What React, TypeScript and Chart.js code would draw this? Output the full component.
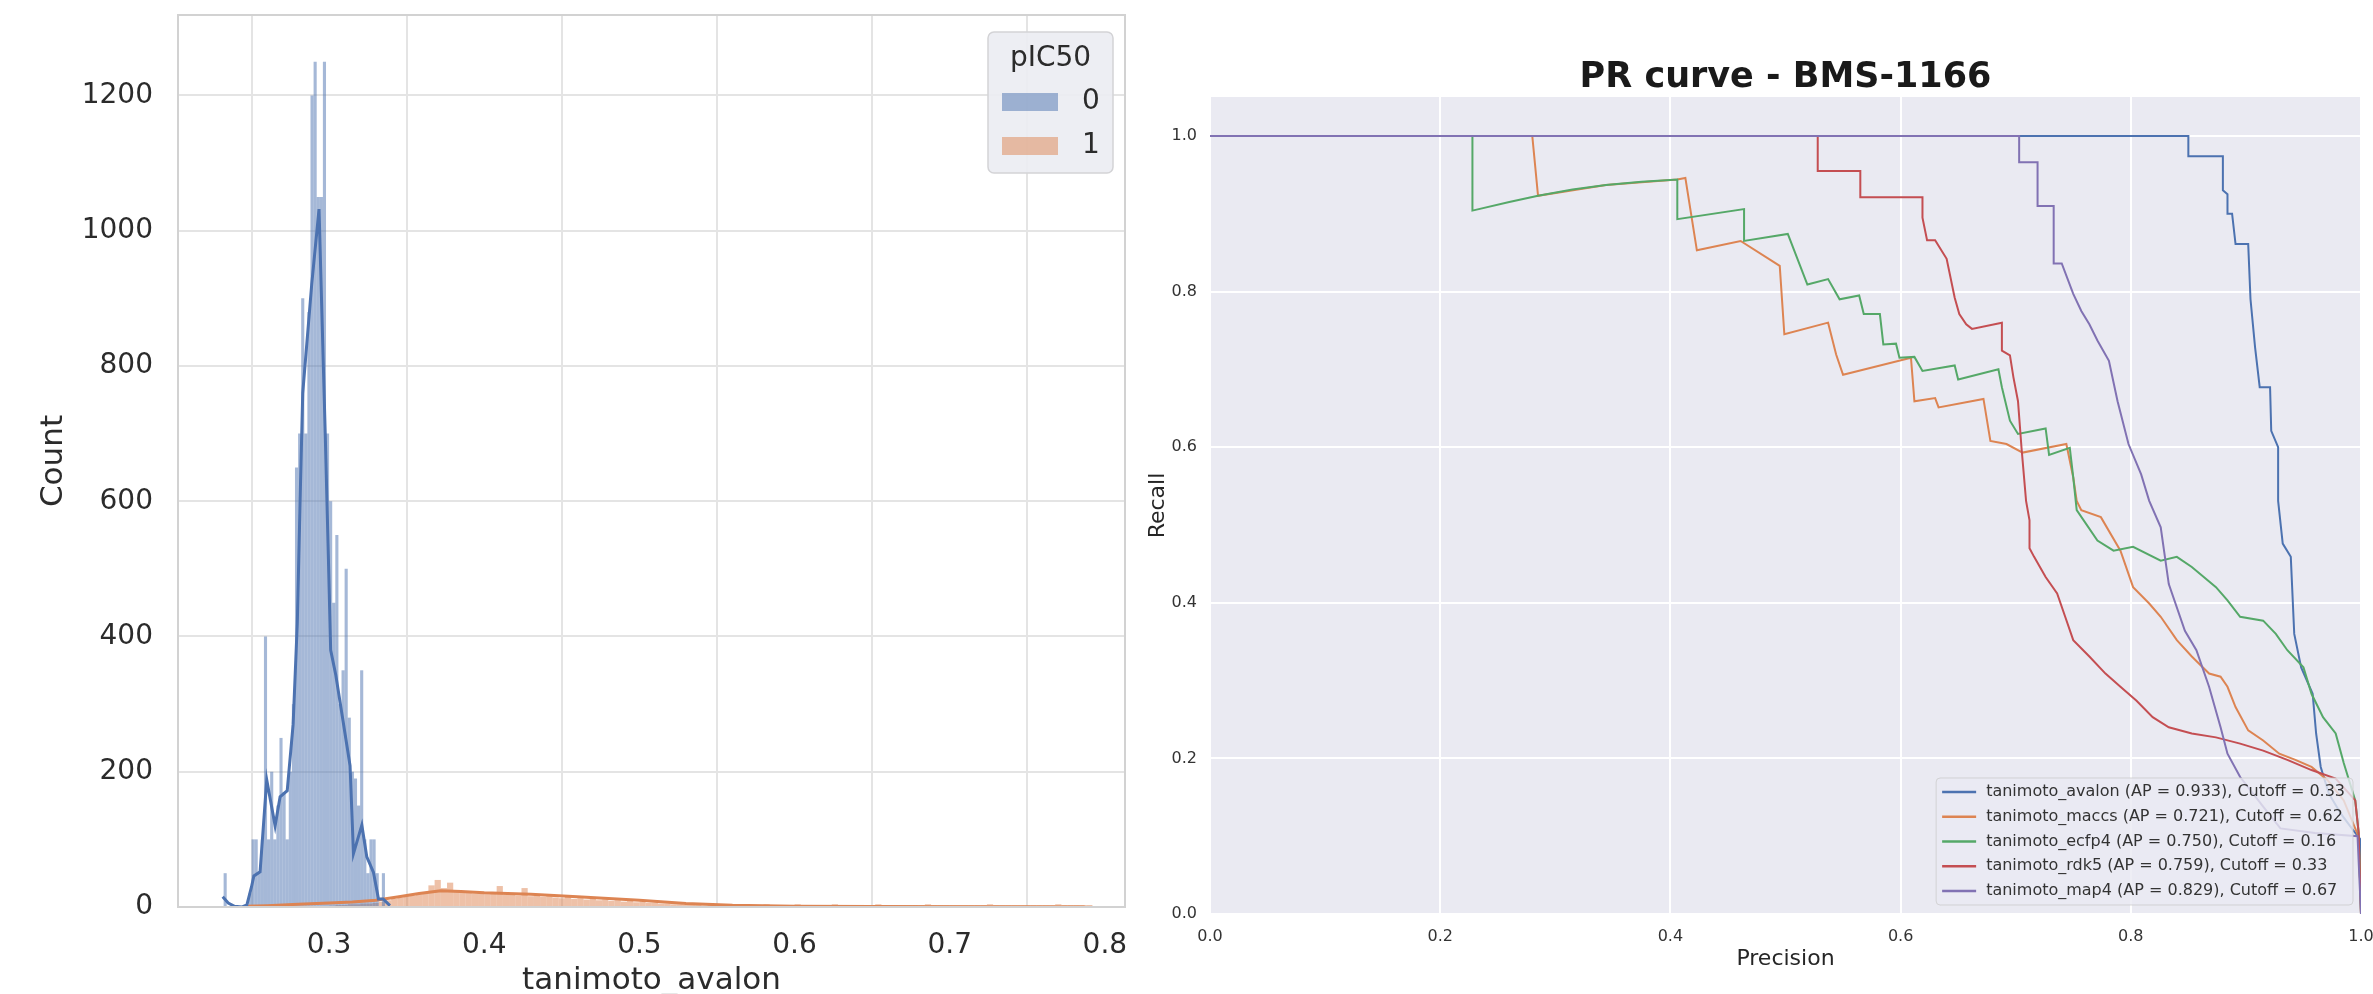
import React, { useEffect, useRef } from "react";
import { Chart, registerables } from "chart.js";

Chart.register(...registerables);

const FONT = "'DejaVu Sans', 'Noto Sans', sans-serif";

// ---------------- Left panel: histogram of tanimoto_avalon ----------------
const histXLabel = "tanimoto_avalon";
const histYLabel = "Count";
const hueTitle = "pIC50";
const hueNames = ["0", "1"];
const histXTicks = [0.3, 0.4, 0.5, 0.6, 0.7, 0.8];
const histYTicks = [0, 200, 400, 600, 800, 1000, 1200];
const histXMin = 0.2026;
const histXMax = 0.813;
const histYMax = 1319;

// pIC50 = 0 (blue) histogram, bins of 0.002 starting at 0.230
const blueBinStart = 0.23;
const blueBinWidth = 0.002;
const blueCounts = [
  0, 50, 0, 0, 0, 0, 0, 0, 0, 20,
  100, 100, 50, 100, 400, 100, 200, 100, 150, 250,
  170, 100, 200, 300, 650, 700, 900, 700, 880, 1200,
  1250, 1050, 1050, 1250, 700, 600, 450, 550, 300, 350,
  500, 280, 200, 190, 150, 350, 100, 50, 100, 100,
  50, 0, 50, 0,
];

// pIC50 = 1 (orange) histogram, bins of 0.004 starting at 0.300
const orangeBinStart = 0.3;
const orangeBinWidth = 0.004;
const orangeCounts = [
  2, 3, 3, 4, 4, 5, 5, 6, 8, 10, 12, 14, 16, 17, 19, 21,
  32, 40, 28, 36, 24, 22, 23, 20, 22, 19, 21, 31, 18, 19, 17, 28,
  16, 17, 15, 16, 14, 13, 15, 12, 13, 11, 12, 10, 11, 9, 10, 8,
  9, 7, 8, 6, 6, 5, 5, 4, 4, 3, 3, 3, 2, 3, 2, 2,
  3, 3, 4, 3, 3, 3, 4, 3, 3, 3, 3, 4, 3, 3, 3, 3, 3, 4, 3, 3,
  3, 3, 3, 3, 4, 3, 3, 3, 3, 3, 3, 3, 4, 3, 3, 3, 3, 3, 3, 3,
  3, 3, 4, 3, 3, 3, 3, 3, 3, 3, 3, 3, 3, 4, 3, 3, 3, 3, 3,
];

// KDE curves
const blueKdeX = [
  0.2314, 0.235, 0.239, 0.244, 0.247, 0.25, 0.2515, 0.2555, 0.2598, 0.2652,
  0.2684, 0.273, 0.2768, 0.2795, 0.2815, 0.283, 0.2888, 0.2935, 0.2975, 0.2995,
  0.301, 0.3043, 0.3085, 0.3135, 0.3157, 0.3211, 0.3243, 0.3286, 0.3318, 0.3348, 0.3392,
];
const blueKdeY = [
  15, 6, 1, 0, 3, 30, 46, 52, 188, 120,
  163, 172, 270, 420, 620, 760, 921, 1032, 700, 520,
  380, 343, 282, 209, 79, 121, 74, 51, 12, 12, 2,
];
const orangeKdeX = [
  0.246, 0.26, 0.28, 0.3, 0.315, 0.33, 0.345, 0.358, 0.372, 0.385,
  0.4, 0.43, 0.46, 0.5, 0.53, 0.56, 0.6, 0.65, 0.7, 0.787,
];
const orangeKdeY = [
  1, 2, 4, 6, 7.5, 10, 15, 20, 24, 23,
  21, 19, 15, 10, 5, 2.5, 1.2, 0.6, 0.3, 0.1,
];

// ---------------- Right panel: PR curves ----------------
const prTitle = "PR curve - BMS-1166";
const prXLabel = "Precision";
const prYLabel = "Recall";
const prTicks = [0, 0.2, 0.4, 0.6, 0.8, 1.0];
const prNames = ["tanimoto_avalon", "tanimoto_maccs", "tanimoto_ecfp4", "tanimoto_rdk5", "tanimoto_map4"];
const prAP = ["0.933", "0.721", "0.750", "0.759", "0.829"];
const prCutoff = ["0.33", "0.62", "0.16", "0.33", "0.67"];
const prColors = ["#4c72b0", "#dd8452", "#55a868", "#c44e52", "#8172b3"];

const avalonPrecision = [0, 0.85, 0.85, 0.88, 0.88, 0.884, 0.884, 0.888, 0.891, 0.902, 0.904, 0.908, 0.912, 0.921, 0.922, 0.928, 0.928, 0.932, 0.939, 0.942, 0.948, 0.958, 0.961, 0.965, 0.972, 0.982, 0.992, 1.0, 1.0];
const avalonRecall = [1.0, 1.0, 0.974, 0.974, 0.93, 0.925, 0.9, 0.9, 0.861, 0.861, 0.79, 0.728, 0.677, 0.677, 0.621, 0.6, 0.531, 0.476, 0.459, 0.36, 0.317, 0.283, 0.232, 0.189, 0.155, 0.13, 0.11, 0.095, 0.0];

const maccsPrecision = [0, 0.28, 0.285, 0.344, 0.406, 0.413, 0.423, 0.461, 0.495, 0.499, 0.537, 0.544, 0.55, 0.609, 0.612, 0.63, 0.633, 0.672, 0.678, 0.692, 0.706, 0.744, 0.75, 0.753, 0.757, 0.774, 0.791, 0.802, 0.816, 0.826, 0.84, 0.853, 0.868, 0.878, 0.884, 0.891, 0.902, 0.915, 0.929, 0.943, 0.957, 0.971, 0.985, 0.998, 1.0];
const maccsRecall = [1.0, 1.0, 0.923, 0.937, 0.944, 0.946, 0.853, 0.865, 0.833, 0.745, 0.76, 0.719, 0.693, 0.715, 0.659, 0.663, 0.651, 0.662, 0.608, 0.604, 0.593, 0.604, 0.561, 0.531, 0.519, 0.51, 0.467, 0.42, 0.399, 0.382, 0.352, 0.331, 0.309, 0.305, 0.292, 0.266, 0.236, 0.223, 0.206, 0.198, 0.189, 0.172, 0.146, 0.099, 0.0];

const ecfp4Precision = [0, 0.228, 0.228, 0.26, 0.285, 0.315, 0.344, 0.375, 0.406, 0.406, 0.464, 0.464, 0.502, 0.519, 0.537, 0.547, 0.564, 0.568, 0.582, 0.585, 0.596, 0.599, 0.612, 0.619, 0.647, 0.65, 0.685, 0.688, 0.695, 0.702, 0.726, 0.729, 0.747, 0.75, 0.753, 0.771, 0.785, 0.802, 0.826, 0.84, 0.853, 0.874, 0.884, 0.895, 0.915, 0.926, 0.936, 0.95, 0.957, 0.967, 0.978, 0.985, 0.995, 0.998, 1.0];
const ecfp4Recall = [1.0, 1.0, 0.904, 0.915, 0.923, 0.931, 0.937, 0.941, 0.944, 0.893, 0.906, 0.865, 0.874, 0.809, 0.816, 0.79, 0.795, 0.771, 0.771, 0.732, 0.733, 0.715, 0.716, 0.698, 0.705, 0.687, 0.7, 0.677, 0.634, 0.617, 0.624, 0.59, 0.599, 0.561, 0.519, 0.48, 0.467, 0.472, 0.454, 0.459, 0.446, 0.42, 0.403, 0.382, 0.377, 0.36, 0.339, 0.317, 0.283, 0.253, 0.232, 0.194, 0.146, 0.104, 0.0];

const rdk5Precision = [0, 0.528, 0.528, 0.565, 0.565, 0.619, 0.619, 0.623, 0.63, 0.64, 0.647, 0.651, 0.657, 0.662, 0.688, 0.688, 0.695, 0.698, 0.702, 0.705, 0.709, 0.712, 0.712, 0.716, 0.726, 0.736, 0.743, 0.75, 0.764, 0.778, 0.791, 0.805, 0.819, 0.833, 0.853, 0.874, 0.895, 0.915, 0.936, 0.957, 0.978, 0.995, 0.998, 1.0];
const rdk5Recall = [1.0, 1.0, 0.955, 0.955, 0.921, 0.921, 0.895, 0.866, 0.866, 0.842, 0.792, 0.771, 0.758, 0.752, 0.76, 0.724, 0.718, 0.69, 0.659, 0.6, 0.531, 0.506, 0.47, 0.459, 0.433, 0.412, 0.382, 0.352, 0.331, 0.309, 0.292, 0.274, 0.253, 0.24, 0.232, 0.227, 0.219, 0.21, 0.198, 0.185, 0.174, 0.146, 0.104, 0.0];

const map4Precision = [0, 0.703, 0.703, 0.719, 0.719, 0.733, 0.733, 0.74, 0.75, 0.757, 0.764, 0.771, 0.781, 0.7885, 0.798, 0.809, 0.816, 0.826, 0.833, 0.847, 0.857, 0.868, 0.878, 0.884, 0.895, 0.915, 0.93, 0.96, 0.997, 1.0];
const map4Recall = [1.0, 1.0, 0.966, 0.966, 0.91, 0.91, 0.836, 0.836, 0.797, 0.775, 0.758, 0.737, 0.711, 0.659, 0.604, 0.565, 0.531, 0.497, 0.424, 0.364, 0.339, 0.292, 0.24, 0.206, 0.176, 0.138, 0.11, 0.104, 0.1, 0.0];

const prPrecisions = [avalonPrecision, maccsPrecision, ecfp4Precision, rdk5Precision, map4Precision];
const prRecalls = [avalonRecall, maccsRecall, ecfp4Recall, rdk5Recall, map4Recall];

// ---------------- helpers ----------------
const zip = (xs: number[], ys: number[]) => xs.map((x, i) => ({ x, y: ys[i] }));
const binsToPoints = (start: number, width: number, counts: number[]) =>
  counts.map((c, i) => ({ x: start + width * (i + 0.5), y: c }));

function roundRectPath(ctx: CanvasRenderingContext2D, x: number, y: number, w: number, h: number, r: number) {
  ctx.beginPath();
  ctx.moveTo(x + r, y);
  ctx.lineTo(x + w - r, y);
  ctx.arcTo(x + w, y, x + w, y + r, r);
  ctx.lineTo(x + w, y + h - r);
  ctx.arcTo(x + w, y + h, x + w - r, y + h, r);
  ctx.lineTo(x + r, y + h);
  ctx.arcTo(x, y + h, x, y + h - r, r);
  ctx.lineTo(x, y + r);
  ctx.arcTo(x, y, x + r, y, r);
  ctx.closePath();
}

const clearPad = (s: any) => {
  s.paddingTop = 0;
  s.paddingBottom = 0;
  s.paddingLeft = 0;
  s.paddingRight = 0;
};

const hueFill = ["rgba(76,114,176,0.5)", "rgba(221,132,82,0.5)"];

const frameBorder = {
  id: "frameBorder",
  afterDraw(chart: any) {
    const { ctx, chartArea: a } = chart;
    ctx.save();
    ctx.strokeStyle = "#d2d2d2";
    ctx.lineWidth = 2;
    ctx.strokeRect(a.left, a.top, a.right - a.left, a.bottom - a.top);
    ctx.restore();
  },
};

const hueLegend = {
  id: "hueLegend",
  afterDraw(chart: any) {
    const { ctx, chartArea: a } = chart;
    const w = 125;
    const h = 141;
    const x = a.right - 12 - w;
    const y = a.top + 17;
    ctx.save();
    roundRectPath(ctx, x, y, w, h, 6);
    ctx.fillStyle = "rgba(236,237,242,0.92)";
    ctx.fill();
    ctx.strokeStyle = "#d3d3d6";
    ctx.lineWidth = 1.5;
    ctx.stroke();
    ctx.fillStyle = "#2b2b2b";
    ctx.font = `28px ${FONT}`;
    ctx.textAlign = "center";
    ctx.textBaseline = "middle";
    ctx.fillText(hueTitle, x + w / 2, y + 27);
    hueNames.forEach((name, i) => {
      const cy = y + 70 + i * 44;
      ctx.fillStyle = hueFill[i];
      ctx.fillRect(x + 14, cy - 9, 56, 18);
      ctx.fillStyle = "#2b2b2b";
      ctx.textAlign = "left";
      ctx.fillText(name, x + 94, cy);
    });
    ctx.restore();
  },
};

const darkBg = {
  id: "darkBg",
  beforeDraw(chart: any) {
    const { ctx, chartArea: a } = chart;
    ctx.save();
    ctx.fillStyle = "#eaeaf2";
    ctx.fillRect(a.left, a.top, a.right - a.left, a.bottom - a.top);
    ctx.restore();
  },
};

const prTitlePlugin = {
  id: "prTitle",
  afterDraw(chart: any) {
    const { ctx, chartArea: a } = chart;
    ctx.save();
    ctx.fillStyle = "#1a1a1a";
    ctx.font = `bold 35px ${FONT}`;
    ctx.textAlign = "center";
    ctx.textBaseline = "alphabetic";
    ctx.fillText(prTitle, (a.left + a.right) / 2, 87);
    ctx.restore();
  },
};

const prLegend = {
  id: "prLegend",
  afterDraw(chart: any) {
    const { ctx, chartArea: a } = chart;
    ctx.save();
    ctx.font = `16px ${FONT}`;
    const labels = prNames.map((n, i) => `${n} (AP = ${prAP[i]}), Cutoff = ${prCutoff[i]}`);
    const maxW = Math.max(...labels.map((l) => ctx.measureText(l).width));
    const rowH = 24.75;
    const w = 50 + maxW + 8;
    const h = 14 * 2 + rowH * (labels.length - 1);
    const right = a.right - 8;
    const bottom = a.bottom - 9;
    const x = right - w;
    const y = bottom - h;
    roundRectPath(ctx, x, y, w, h, 4);
    ctx.fillStyle = "rgba(234,234,242,0.8)";
    ctx.fill();
    ctx.strokeStyle = "rgba(204,204,204,0.8)";
    ctx.lineWidth = 1;
    ctx.stroke();
    labels.forEach((l, i) => {
      const cy = y + 14 + i * rowH;
      ctx.strokeStyle = prColors[i];
      ctx.lineWidth = 2.5;
      ctx.beginPath();
      ctx.moveTo(x + 6, cy);
      ctx.lineTo(x + 40, cy);
      ctx.stroke();
      ctx.fillStyle = "#333333";
      ctx.textAlign = "left";
      ctx.textBaseline = "middle";
      ctx.fillText(l, x + 50, cy);
    });
    ctx.restore();
  },
};

export default function App() {
  const leftRef = useRef<HTMLCanvasElement>(null);
  const rightRef = useRef<HTMLCanvasElement>(null);

  useEffect(() => {
    document.body.style.margin = "0";
    const tickColor = "#2b2b2b";

    const left = new Chart(leftRef.current as HTMLCanvasElement, {
      type: "bar",
      data: {
        datasets: [
          {
            type: "line",
            label: "kde 0",
            data: zip(blueKdeX, blueKdeY),
            borderColor: "#4c72b0",
            borderWidth: 3,
            pointRadius: 0,
            tension: 0,
            fill: false,
            xAxisID: "x",
            order: 0,
          } as any,
          {
            type: "line",
            label: "kde 1",
            data: zip(orangeKdeX, orangeKdeY),
            borderColor: "#dd8452",
            borderWidth: 3,
            pointRadius: 0,
            tension: 0,
            fill: false,
            xAxisID: "x",
            order: 1,
          } as any,
          {
            type: "bar",
            label: "0",
            data: binsToPoints(blueBinStart, blueBinWidth, blueCounts),
            backgroundColor: hueFill[0],
            borderWidth: 0,
            grouped: false,
            barPercentage: 1,
            categoryPercentage: 1,
            inflateAmount: 0,
            xAxisID: "x",
            order: 2,
          } as any,
          {
            type: "bar",
            label: "1",
            data: binsToPoints(orangeBinStart, orangeBinWidth, orangeCounts),
            backgroundColor: hueFill[1],
            borderWidth: 0,
            grouped: false,
            barPercentage: 1,
            categoryPercentage: 1,
            inflateAmount: 0,
            xAxisID: "x2",
            order: 3,
          } as any,
        ],
      },
      options: {
        responsive: false,
        animation: false,
        devicePixelRatio: 1,
        layout: { padding: { left: 0, top: 15, right: 5, bottom: 0 } },
        plugins: { legend: { display: false }, tooltip: { enabled: false }, title: { display: false } },
        scales: {
          x: {
            type: "linear",
            min: histXMin,
            max: histXMax,
            offset: false,
            afterBuildTicks: (s: any) => {
              s.ticks = histXTicks.map((v) => ({ value: v }));
            },
            afterFit: (s: any) => {
              s.height = 87;
              clearPad(s);
            },
            grid: { color: "#e4e4e4", lineWidth: 2, drawTicks: false },
            border: { display: false },
            ticks: {
              padding: 21.5,
              color: tickColor,
              font: { family: FONT, size: 28 },
              maxRotation: 0,
              autoSkip: false,
              callback: (v: any) => Number(v).toFixed(1),
            },
            title: {
              display: true,
              text: histXLabel,
              color: tickColor,
              font: { family: FONT, size: 31, lineHeight: 0.82 },
              padding: { top: 0, bottom: 0 },
            },
          },
          x2: {
            type: "linear",
            display: false,
            min: histXMin,
            max: histXMax,
            offset: false,
            afterFit: clearPad,
          },
          y: {
            type: "linear",
            min: 0,
            max: histYMax,
            afterBuildTicks: (s: any) => {
              s.ticks = histYTicks.map((v) => ({ value: v }));
            },
            afterFit: (s: any) => {
              s.width = 178;
              clearPad(s);
            },
            grid: { color: "#e4e4e4", lineWidth: 2, drawTicks: false },
            border: { display: false },
            ticks: {
              padding: 25,
              color: tickColor,
              font: { family: FONT, size: 28 },
              callback: (v: any) => String(v),
            },
            title: {
              display: true,
              text: histYLabel,
              color: tickColor,
              font: { family: FONT, size: 31, lineHeight: 1.2 },
              padding: { top: 35.7, bottom: 0 },
            },
          },
        },
      } as any,
      plugins: [frameBorder, hueLegend],
    });

    const right = new Chart(rightRef.current as HTMLCanvasElement, {
      type: "scatter",
      data: {
        datasets: prNames.map((name, i) => ({
          label: name,
          data: zip(prPrecisions[i], prRecalls[i]),
          showLine: true,
          borderColor: prColors[i],
          backgroundColor: prColors[i],
          borderWidth: 2,
          pointRadius: 0,
          tension: 0,
          fill: false,
          order: prNames.length - 1 - i,
        })),
      },
      options: {
        responsive: false,
        animation: false,
        devicePixelRatio: 1,
        layout: { padding: { left: 0, top: 97, right: 12, bottom: 0 } },
        plugins: { legend: { display: false }, tooltip: { enabled: false }, title: { display: false } },
        scales: {
          x: {
            type: "linear",
            min: 0,
            max: 1,
            afterBuildTicks: (s: any) => {
              s.ticks = prTicks.map((v) => ({ value: v }));
            },
            afterFit: (s: any) => {
              s.height = 80;
              clearPad(s);
            },
            grid: { color: "#ffffff", lineWidth: 2, drawTicks: false },
            border: { display: false },
            ticks: {
              padding: 12.9,
              color: "#333333",
              font: { family: FONT, size: 16 },
              maxRotation: 0,
              autoSkip: false,
              callback: (v: any) => Number(v).toFixed(1),
            },
            title: {
              display: true,
              text: prXLabel,
              color: "#262626",
              font: { family: FONT, size: 22, lineHeight: 1.2 },
              padding: { top: 0, bottom: 21.8 },
            },
          },
          y: {
            type: "linear",
            min: 0,
            max: 1.05,
            afterBuildTicks: (s: any) => {
              s.ticks = prTicks.map((v) => ({ value: v }));
            },
            afterFit: (s: any) => {
              s.width = 80;
              clearPad(s);
            },
            grid: { color: "#ffffff", lineWidth: 2, drawTicks: false },
            border: { display: false },
            ticks: {
              padding: 13,
              color: "#333333",
              font: { family: FONT, size: 16 },
              callback: (v: any) => Number(v).toFixed(1),
            },
            title: {
              display: true,
              text: prYLabel,
              color: "#262626",
              font: { family: FONT, size: 22, lineHeight: 1.2 },
              padding: { top: 14.8, bottom: 0 },
            },
          },
        },
      } as any,
      plugins: [darkBg, prTitlePlugin, prLegend],
    });

    return () => {
      left.destroy();
      right.destroy();
    };
  }, []);

  return (
    <div
      style={{
        position: "absolute",
        left: 0,
        top: 0,
        width: 2373,
        height: 994,
        background: "#ffffff",
        overflow: "hidden",
      }}
    >
      <canvas
        ref={leftRef}
        width={1130}
        height={994}
        style={{ position: "absolute", left: 0, top: 0, width: 1130, height: 994 }}
      />
      <canvas
        ref={rightRef}
        width={1243}
        height={994}
        style={{ position: "absolute", left: 1130, top: 0, width: 1243, height: 994 }}
      />
    </div>
  );
}
